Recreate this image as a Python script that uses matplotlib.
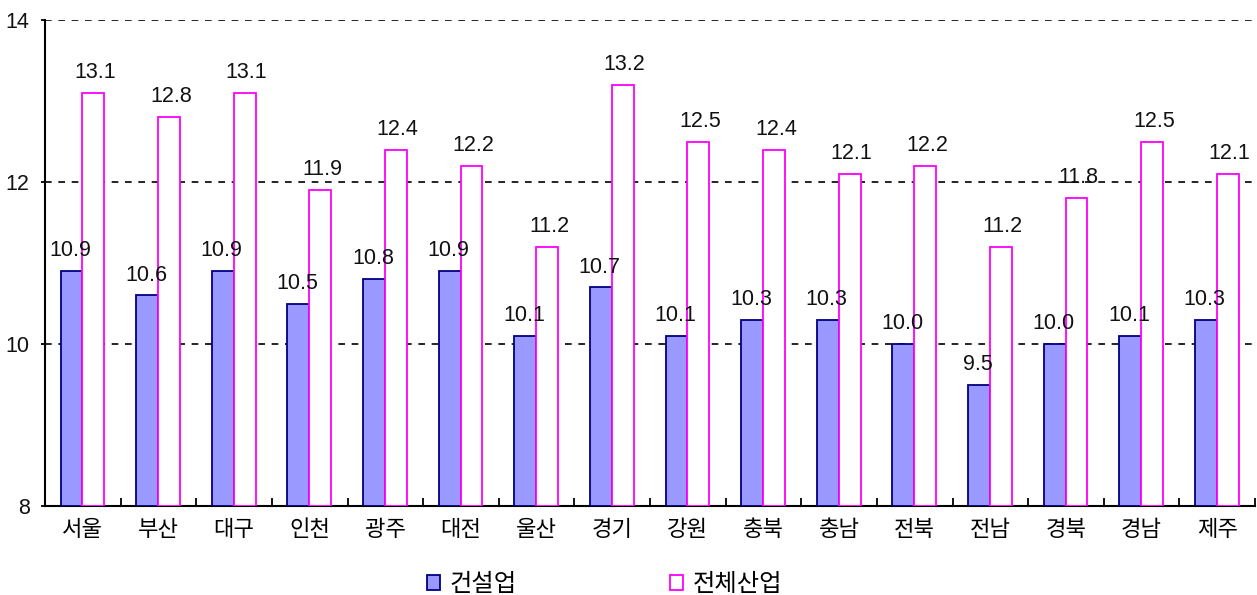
import matplotlib.pyplot as plt
import numpy as np

plt.rcParams['font.family'] = ['Noto Sans CJK KR', 'DejaVu Sans']

regions = ['서울', '부산', '대구', '인천', '광주', '대전', '울산', '경기',
           '강원', '충북', '충남', '전북', '전남', '경북', '경남', '제주']
construction = [10.9, 10.6, 10.9, 10.5, 10.8, 10.9, 10.1, 10.7,
                10.1, 10.3, 10.3, 10.0, 9.5, 10.0, 10.1, 10.3]
all_industry = [13.1, 12.8, 13.1, 11.9, 12.4, 12.2, 11.2, 13.2,
                12.5, 12.4, 12.1, 12.2, 11.2, 11.8, 12.5, 12.1]

num_font = dict(family=['Liberation Sans', 'DejaVu Sans'], fontsize=15.5, color='#111111')

fig = plt.figure(figsize=(12.57, 5.95), dpi=100)
ax = fig.add_axes([45 / 1257, 89 / 595, 1210 / 1257, 486 / 595])

x = np.arange(len(regions))
w = 0.29
base = 8

b1 = ax.bar(x - w / 2 - 0.005, np.array(construction) - base, w, bottom=base,
            color='#9999ff', edgecolor='#000080', linewidth=1.3, label='건설업', zorder=3)
b2 = ax.bar(x + w / 2 - 0.005, np.array(all_industry) - base, w, bottom=base,
            color='white', edgecolor='#ff00ff', linewidth=1.3, label='전체산업', zorder=3)

for xi, v in zip(x, construction):
    ax.text(xi - w / 2 - 0.02, v + 0.12, f'{v:.1f}', ha='center', va='bottom', zorder=4, **num_font)
for xi, v in zip(x, all_industry):
    ax.text(xi + w / 2 + 0.02, v + 0.12, f'{v:.1f}', ha='center', va='bottom', zorder=4, **num_font)

ax.set_ylim(8, 14)
ax.set_yticks([8, 10, 12, 14])
ax.set_xlim(-0.5, len(regions) - 0.5)

for yv in [10, 12, 14]:
    ax.axhline(yv, color='black', linestyle=(0, (4, 4)), linewidth=1.2, zorder=2)

# category labels in the middle, ticks on the boundaries
ax.set_xticks(x)
ax.set_xticklabels(regions, fontsize=16)
ax.tick_params(axis='x', length=0, pad=9)
ax.set_xticks(np.arange(0.5, len(regions), 1), minor=True)
ax.tick_params(axis='x', which='minor', direction='in', length=6, width=1.3)
ax.tick_params(axis='y', length=3, width=1.3, pad=8)
for lab in ax.get_yticklabels():
    lab.set_family(['Liberation Sans', 'DejaVu Sans'])
    lab.set_fontsize(15.5)
    lab.set_color('#111111')

for s in ['top', 'right']:
    ax.spines[s].set_visible(False)
for s in ['left', 'bottom']:
    ax.spines[s].set_linewidth(1.5)

fig.legend(handles=[b1, b2], loc='lower center', bbox_to_anchor=(0.481, -0.04),
           ncol=2, frameon=False, fontsize=17.5, columnspacing=6.3,
           handlelength=0.55, handleheight=0.55, handletextpad=0.4)

fig.savefig('out.png', dpi=100)
